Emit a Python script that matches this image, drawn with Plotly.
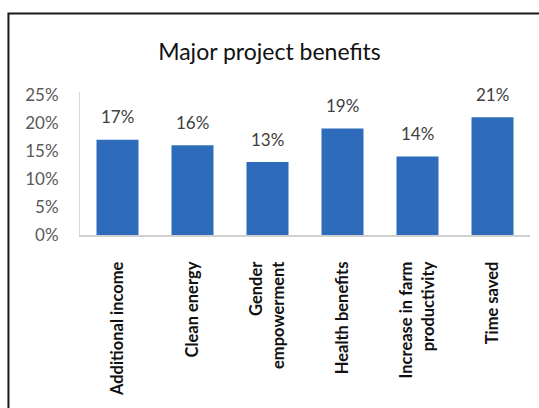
import plotly.graph_objects as go

categories = [
    "Additional income",
    "Clean energy",
    "Gender<br>empowerment",
    "Health benefits",
    "Increase in farm<br>productivity",
    "Time saved",
]
shares = [0.17, 0.16, 0.13, 0.19, 0.14, 0.21]
y_ticks = [0, 0.05, 0.10, 0.15, 0.20, 0.25]

FONT = "Lato"

fig = go.Figure()
fig.add_trace(go.Bar(
    x=categories,
    y=shares,
    marker=dict(color="#2e6cbb", line=dict(width=0)),
    hoverinfo="skip",
))

# value labels sit a little above each bar
for cat, val in zip(categories, shares):
    fig.add_annotation(
        x=cat, y=val, text=f"{val:.0%}", showarrow=False,
        yanchor="middle", yshift=23,
        font=dict(family=FONT, size=17, color="#404040"),
    )

# outer chart frame (left and top edges visible)
fig.add_shape(type="rect", xref="paper", yref="paper",
              x0=-0.159, x1=1.2, y0=-2, y1=1.549,
              line=dict(color="#1a1a1a", width=2), fillcolor="rgba(0,0,0,0)")

fig.update_layout(
    width=539, height=408,
    margin=dict(l=80, r=9, t=92, b=173),
    paper_bgcolor="white", plot_bgcolor="white",
    bargap=0.44,
    showlegend=False,
    title=dict(text="Major project benefits", x=0.5, xanchor="center",
               y=1 - 52 / 408, yanchor="middle",
               font=dict(family=FONT, size=23, color="#111111")),
    xaxis=dict(
        type="category", tickangle=-90, showgrid=False,
        showline=True, linecolor="#d0d0d0", linewidth=2,
        ticks="", ticklabelstandoff=18,
        tickfont=dict(family=FONT, size=16.5, color="#111111", weight="bold"),
    ),
    yaxis=dict(
        range=[0, 0.255], tickvals=y_ticks, tickformat=".0%",
        showgrid=False, zeroline=False,
        showline=True, linecolor="#d9d9d9", linewidth=1,
        ticks="", ticklabelstandoff=17,
        tickfont=dict(family=FONT, size=17, color="#595959"),
    ),
)

fig.write_html("out.html")
